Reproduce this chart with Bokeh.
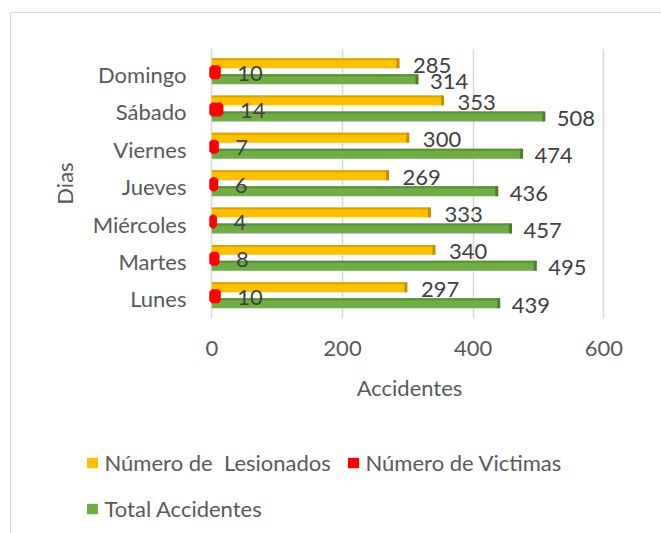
from bokeh.plotting import figure
from bokeh.layouts import column
from bokeh.models import (ColumnDataSource, Range1d, FixedTicker, Legend, LegendItem)
from bokeh.embed import file_html
from bokeh.resources import INLINE
from bokeh.core.properties import value

# ---- data ----
days = ["Lunes", "Martes", "Miércoles", "Jueves", "Viernes", "Sábado", "Domingo"]
lesionados = [297, 340, 333, 269, 300, 353, 285]
victimas = [10, 8, 4, 6, 7, 14, 10]
total = [439, 495, 457, 436, 474, 508, 314]
x_ticks = [0, 200, 400, 600]
series_names = ["Número de  Lesionados", "Número de Victimas", "Total Accidentes"]

FONT = "Lato"
FS = "22px"
YEL, YEL_D, YEL_T = "#FFC000", "#BF9000", "#D9A400"
RED = "#FF0000"
GRN, GRN_D, GRN_T = "#70AD47", "#4E7A31", "#5B8F3A"

idx = list(range(len(days)))
PX = 37.4  # pixels per category unit
bh = 10 / PX
src = ColumnDataSource(dict(
    y_les=[i + 11.5 / PX for i in idx],
    y_vic=[i + 2.5 / PX for i in idx],
    y_tot=[i - 4.5 / PX for i in idx],
    y_les_top=[i + 15.5 / PX for i in idx],
    y_tot_top=[i - 0.5 / PX for i in idx],
    les=lesionados, vic=victimas, tot=total,
    les_s=[str(v) for v in lesionados],
    vic_s=[str(v) for v in victimas],
    tot_s=[str(v) for v in total],
))

W = 651
p = figure(width=W, height=410, x_range=Range1d(-5, 610), y_range=Range1d(-0.53, 6.7),
           output_backend="svg", toolbar_location=None,
           min_border_left=197, min_border_top=35, min_border_right=52, min_border_bottom=105)
p.outline_line_color = None
p.background_fill_color = "white"
p.border_fill_color = "white"
p.frame_align = False

# bars with a darker top edge and end face
r_les = p.hbar(y="y_les", left=0, right="les", height=bh, source=src, fill_color=YEL, line_color=None)
p.hbar(y="y_les_top", left=0, right="les", height=2 / PX, source=src, fill_color=YEL_T, line_color=None)
p.hbar(y="y_les", left="les", right="les", height=bh, source=src, line_color=YEL_D, line_width=3)
r_tot = p.hbar(y="y_tot", left=0, right="tot", height=bh, source=src, fill_color=GRN, line_color=None)
p.hbar(y="y_tot_top", left=0, right="tot", height=2 / PX, source=src, fill_color=GRN_T, line_color=None)
p.hbar(y="y_tot", left="tot", right="tot", height=bh, source=src, line_color=GRN_D, line_width=3)
r_vic = p.hbar(y="y_vic", left=0, right="vic", height=9 / PX, source=src, fill_color=RED,
               line_color=RED, line_width=5)

# data labels
lab = dict(text_font=value(FONT), text_font_size=FS, text_color="#404040",
           text_baseline="middle", text_align="left")
p.text(x="les", y="y_les", text="les_s", source=src, x_offset=15, y_offset=2, **lab)
p.text(x="tot", y="y_tot", text="tot_s", source=src, x_offset=13, y_offset=2, **lab)
p.text(x="vic", y="y_vic", text="vic_s", source=src, x_offset=19, y_offset=1, **lab)

# axes
p.xaxis.ticker = FixedTicker(ticks=x_ticks)
p.yaxis.ticker = FixedTicker(ticks=idx)
p.yaxis.major_label_overrides = {i: d for i, d in zip(idx, days)}
for ax in (p.xaxis[0], p.yaxis[0]):
    ax.axis_line_color = None
    ax.major_tick_line_color = None
    ax.minor_tick_line_color = None
    ax.major_label_text_font = FONT
    ax.major_label_text_font_size = FS
    ax.major_label_text_color = "#595959"
    ax.axis_label_text_font = FONT
    ax.axis_label_text_font_size = FS
    ax.axis_label_text_color = "#595959"
    ax.axis_label_text_font_style = "normal"
p.xaxis.axis_label = "Accidentes"
p.yaxis.axis_label = "Dias"
p.xaxis.major_label_standoff = 16
p.xaxis.axis_label_standoff = 15
p.yaxis.major_label_standoff = 16
p.yaxis.axis_label_standoff = 12

p.ygrid.grid_line_color = None
p.xgrid.grid_line_color = "#d9d9d9"
p.xgrid.grid_line_width = 1.5

# ---- legend strip (its own figure; the bars it holds lie far outside its view) ----
LH = 111
pl = figure(width=W, height=LH, x_range=Range1d(-20000, -20000 + W), y_range=Range1d(-20000, -20000 + LH),
            output_backend="svg", toolbar_location=None, x_axis_type=None, y_axis_type=None,
            min_border=0, min_border_left=0, min_border_right=0, min_border_top=0, min_border_bottom=0)
pl.outline_line_color = None
pl.background_fill_color = "white"
pl.border_fill_color = "white"
pl.grid.visible = False
pl.frame_align = False
l_les = pl.hbar(y="y_les", left=0, right="les", height=bh, source=src, fill_color=YEL, line_color=None)
l_vic = pl.hbar(y="y_vic", left=0, right="vic", height=bh, source=src, fill_color=RED, line_color=None)
l_tot = pl.hbar(y="y_tot", left=0, right="tot", height=bh, source=src, fill_color=GRN, line_color=None)

FL = 11.5  # frame left of the legend strip (page px)
def mk_legend(label, r, loc):
    lg = Legend(items=[LegendItem(label=label, renderers=[r])], location=loc, orientation="horizontal",
                glyph_width=14, glyph_height=13, label_standoff=6,
                padding=0, margin=0, border_line_color=None, background_fill_alpha=0,
                label_text_font=FONT, label_text_font_size=FS, label_text_color="#595959")
    pl.add_layout(lg, "center")

mk_legend(series_names[0], l_les, (85 - FL, 58))
mk_legend(series_names[1], l_vic, (346 - FL, 58))
mk_legend(series_names[2], l_tot, (85 - FL, 12))

layout = column(p, pl, spacing=0,
                styles={"margin-left": "10px", "margin-top": "12px",
                        "border-top": "1.5px solid #d9d9d9", "border-left": "1.5px solid #d9d9d9"})

open("out.html", "w").write(file_html(layout, INLINE))
